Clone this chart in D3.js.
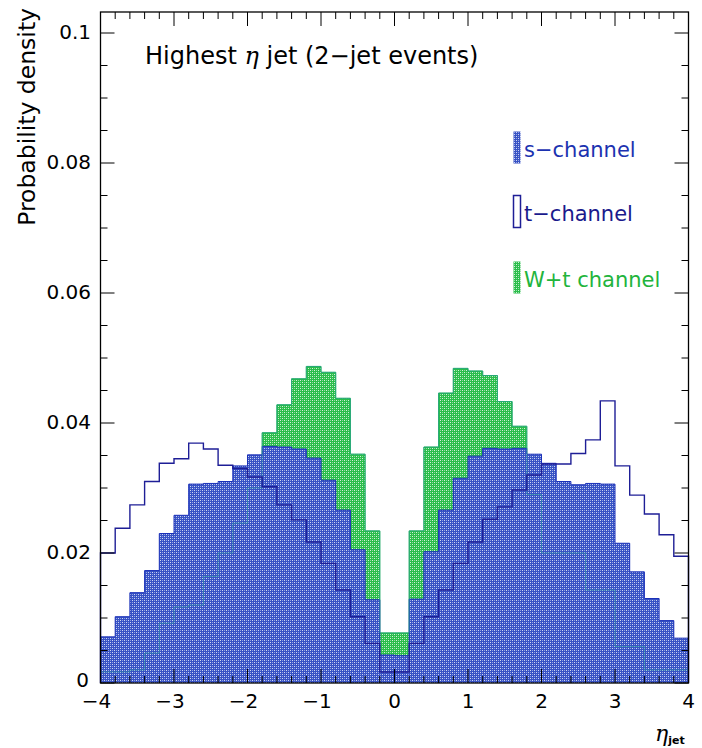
<!DOCTYPE html>
<html>
<head>
<meta charset="utf-8">
<script src="https://cdn.jsdelivr.net/npm/d3@7"></script>
<style>
  html, body { margin: 0; padding: 0; background: #fff; }
  svg { display: block; font-family: 'DejaVu Sans', sans-serif; }
</style>
</head>
<body>
<svg id="chart" width="702" height="748"></svg>
<script>
// lower edges of the 40 eta bins (width 0.2)
const binLow = d3.range(40).map(i => -4 + i * 0.2);
const binWidth = 0.2;

// s-channel (blue hatched)
const sChannel = [
  0.0071, 0.0102, 0.0139, 0.0173, 0.0230, 0.0258, 0.0306, 0.0307, 0.0310, 0.0334,
  0.0351, 0.0364, 0.0363, 0.0360, 0.0346, 0.0312, 0.0266, 0.0205, 0.0128, 0.0043,
  0.0042, 0.0129, 0.0202, 0.0266, 0.0315, 0.0349, 0.0361, 0.0360, 0.0361, 0.0352,
  0.0338, 0.0310, 0.0305, 0.0307, 0.0306, 0.0215, 0.0171, 0.0130, 0.0096, 0.0069
];

// t-channel (outline only)
const tChannel = [
  0.0200, 0.0238, 0.0274, 0.0310, 0.0338, 0.0345, 0.0369, 0.0360, 0.0335, 0.0330,
  0.0317, 0.0302, 0.0274, 0.0251, 0.0217, 0.0184, 0.0143, 0.0102, 0.0061, 0.0017,
  0.0017, 0.0061, 0.0102, 0.0143, 0.0184, 0.0217, 0.0252, 0.0271, 0.0297, 0.0320,
  0.0337, 0.0337, 0.0353, 0.0374, 0.0434, 0.0334, 0.0289, 0.0260, 0.0228, 0.0195
];

// W+t channel (green hatched, drawn behind s-channel)
const wtChannel = [
  0.0017, 0.0017, 0.0020, 0.0046, 0.0092, 0.0117, 0.0120, 0.0164, 0.0200, 0.0246,
  0.0300, 0.0385, 0.0428, 0.0468, 0.0487, 0.0478, 0.0438, 0.0352, 0.0234, 0.0077,
  0.0077, 0.0234, 0.0363, 0.0446, 0.0484, 0.0480, 0.0473, 0.0433, 0.0395, 0.0290,
  0.0200, 0.0200, 0.0200, 0.0143, 0.0143, 0.0056, 0.0056, 0.0020, 0.0020, 0.0020
];

const xTicks = [-4, -3, -2, -1, 0, 1, 2, 3, 4];
const yTicks = [0, 0.02, 0.04, 0.06, 0.08, 0.1];
const yTickLabels = ['0', '0.02', '0.04', '0.06', '0.08', '0.1'];

const legendItems = [
  { label: 's\u2212channel', kind: 'blue', text: '#1c32b0', y: 131 },
  { label: 't\u2212channel', kind: 'outline', text: '#1a1a8c', y: 195 },
  { label: 'W+t channel', kind: 'green', text: '#22b43c', y: 261 }
];

const svg = d3.select('#chart');
const plotLeft = 100.5, plotRight = 688.5, plotTop = 12, plotBottom = 683;

const x = d3.scaleLinear().domain([-4, 4]).range([plotLeft, plotRight]);
const y = d3.scaleLinear().domain([0, (plotBottom - plotTop) / 6500]).range([plotBottom, plotTop]);

// ---- fill patterns (ROOT style dotted hatch)
const defs = svg.append('defs');
function makePattern(id, dark, mid, light) {
  const p = defs.append('pattern').attr('id', id)
    .attr('patternUnits', 'userSpaceOnUse').attr('width', 4).attr('height', 4);
  p.append('rect').attr('width', 4).attr('height', 4).attr('fill', dark);
  [[0, 0, light], [2, 2, light], [2, 0, mid], [0, 2, mid]].forEach(([px, py, c]) => {
    p.append('rect').attr('x', px).attr('y', py).attr('width', 1).attr('height', 1).attr('fill', c);
  });
}
makePattern('blueHatch', '#3752c4', '#909fe2', '#d0d7f3');
makePattern('greenHatch', '#2abd4b', '#8cdb9b', '#d4f2da');

function histData(vals) {
  const d = binLow.map((b, i) => ({ x: b, v: vals[i] }));
  d.push({ x: binLow[binLow.length - 1] + binWidth, v: vals[vals.length - 1] });
  return d;
}

const area = d3.area().curve(d3.curveStepAfter)
  .x(d => x(d.x)).y0(y(0)).y1(d => y(d.v));

function outlinePath(vals) {
  // step outline that closes down to zero at both ends
  const d = histData(vals);
  const line = d3.line().curve(d3.curveStepAfter).x(p => x(p.x)).y(p => y(p.v));
  return 'M' + x(-4) + ',' + y(0) + 'L' + line(d).slice(1) + 'L' + x(4) + ',' + y(0);
}

// ---- W+t behind
svg.append('path').attr('d', area(histData(wtChannel)))
  .attr('fill', 'url(#greenHatch)');
svg.append('path').attr('d', outlinePath(wtChannel))
  .attr('fill', 'none').attr('stroke', '#1fb640').attr('stroke-width', 1);

// ---- s-channel on top
svg.append('path').attr('d', area(histData(sChannel)))
  .attr('fill', 'url(#blueHatch)');
svg.append('path').attr('d', outlinePath(sChannel))
  .attr('fill', 'none').attr('stroke', '#1a30b8').attr('stroke-width', 1);

// faint W+t edges showing through the s-channel fill
svg.append('path').attr('d', outlinePath(wtChannel))
  .attr('fill', 'none').attr('stroke', '#2a9c9c').attr('stroke-width', 1)
  .attr('opacity', 0.6);

// ---- t-channel outline
svg.append('path').attr('d', outlinePath(tChannel))
  .attr('fill', 'none').attr('stroke', '#1e1e96').attr('stroke-width', 1.4);

// ---- frame and ticks
const axes = svg.append('g').attr('stroke', '#000').attr('fill', 'none');
axes.append('rect').attr('x', plotLeft).attr('y', plotTop)
  .attr('width', plotRight - plotLeft).attr('height', plotBottom - plotTop).attr('stroke-width', 1.3);

d3.range(0, 41).forEach(i => {
  const v = -4 + i * 0.2;
  const len = i % 5 === 0 ? 14 : 7;
  axes.append('line').attr('x1', x(v)).attr('x2', x(v)).attr('y1', plotBottom).attr('y2', plotBottom - len);
  axes.append('line').attr('x1', x(v)).attr('x2', x(v)).attr('y1', plotTop).attr('y2', plotTop + len);
});
d3.range(0, 21).forEach(i => {
  const v = i * 0.005;
  const len = i % 4 === 0 ? 14 : 7;
  axes.append('line').attr('x1', plotLeft).attr('x2', plotLeft + len).attr('y1', y(v)).attr('y2', y(v));
  axes.append('line').attr('x1', plotRight).attr('x2', plotRight - len).attr('y1', y(v)).attr('y2', y(v));
});

// ---- tick labels
svg.append('g').selectAll('text').data(xTicks).join('text')
  .attr('x', d => x(d) + (d < 0 ? -4 : 0)).attr('y', 708)
  .attr('text-anchor', 'middle').attr('font-size', 20).attr('fill', '#000')
  .text(d => d < 0 ? '\u2212' + Math.abs(d) : String(d));

svg.append('g').selectAll('text').data(yTicks).join('text')
  .attr('x', d => d === 0 ? 89 : 91).attr('y', d => y(d) + (d === 0 ? 4 : 6))
  .attr('text-anchor', 'end').attr('font-size', 20).attr('fill', '#000')
  .text((d, i) => yTickLabels[i]);

// ---- axis titles
svg.append('text')
  .attr('transform', 'translate(35,8) rotate(-90)')
  .attr('text-anchor', 'end').attr('font-size', 23.5).attr('fill', '#000')
  .text('Probability density');

const xt = svg.append('text').attr('x', 655).attr('y', 741).attr('fill', '#000');
xt.append('tspan').attr('font-family', 'DejaVu Serif').attr('font-style', 'italic')
  .attr('font-size', 22).text('\u03b7');
xt.append('tspan').attr('font-size', 11).attr('font-weight', 'bold').attr('dy', 3).text('jet');

// ---- title
const title = svg.append('text').attr('x', 145).attr('y', 64)
  .attr('font-size', 24).attr('fill', '#000');
title.append('tspan').text('Highest ');
title.append('tspan').attr('font-family', 'DejaVu Serif').attr('font-style', 'italic').text('\u03b7');
title.append('tspan').text(' jet (2\u2212jet events)');

// ---- legend
const lg = svg.append('g');
legendItems.forEach(it => {
  const box = lg.append('rect').attr('x', 513.5).attr('y', it.y + 0.5)
    .attr('width', 7).attr('height', 32);
  if (it.kind === 'blue') box.attr('fill', 'url(#blueHatch)');
  else if (it.kind === 'green') box.attr('fill', 'url(#greenHatch)');
  else box.attr('fill', 'none').attr('stroke', '#1e1e96').attr('stroke-width', 1.5);
  lg.append('text').attr('x', 524).attr('y', it.y + 26)
    .attr('font-size', 21).attr('fill', it.text).text(it.label);
});
</script>
</body>
</html>
